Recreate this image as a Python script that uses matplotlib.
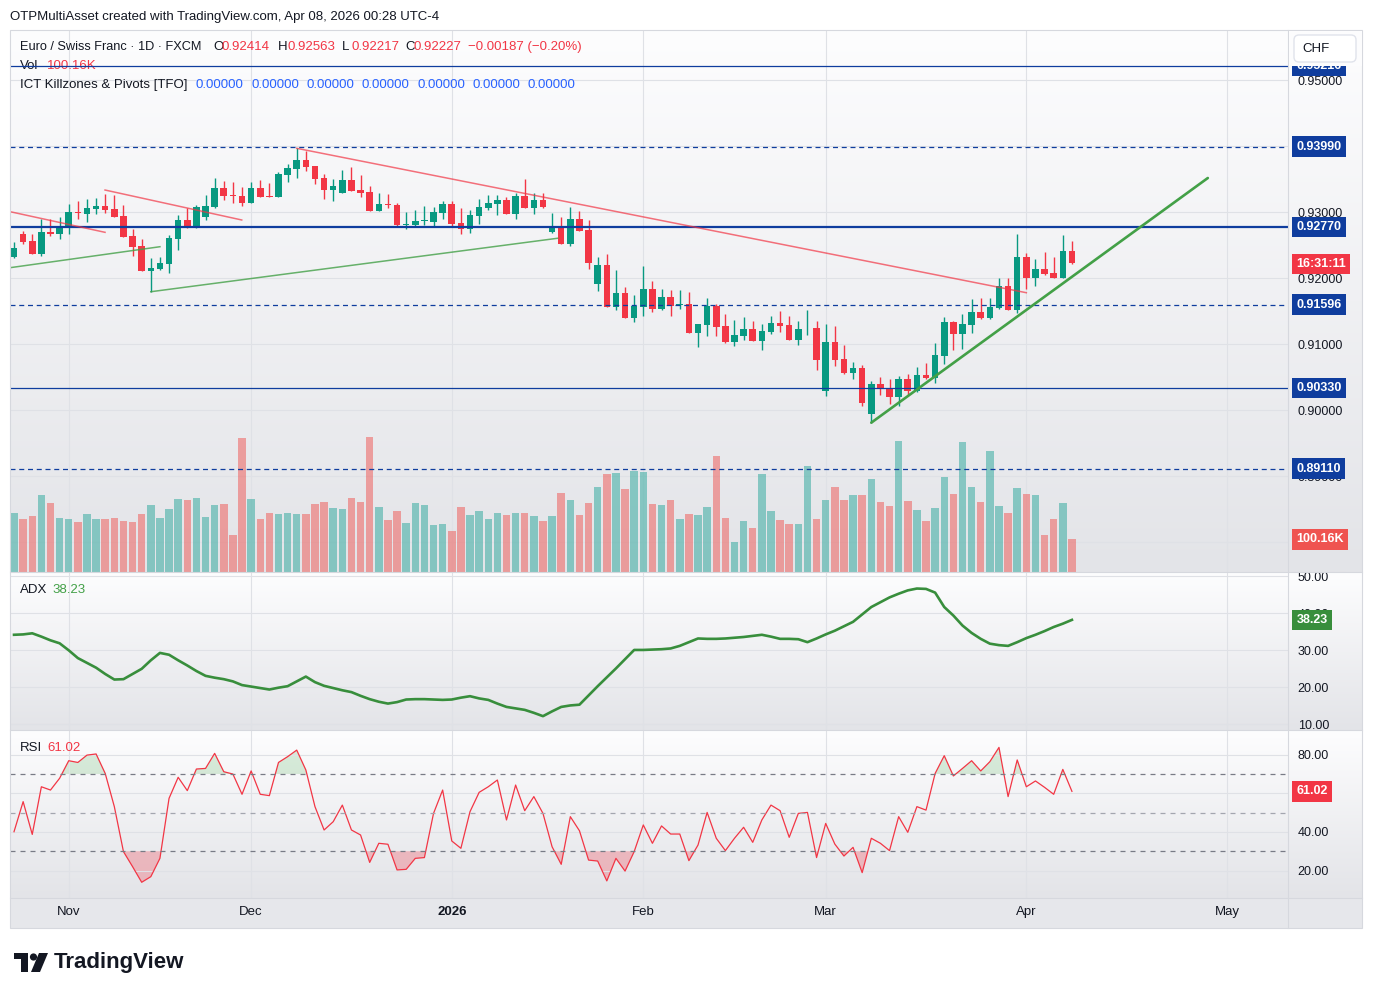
import numpy as np
import pandas as pd
import matplotlib
matplotlib.use("Agg")
import matplotlib.pyplot as plt
from matplotlib.colors import LinearSegmentedColormap
from matplotlib.patches import Rectangle, FancyBboxPatch, Circle, Polygon
from matplotlib.lines import Line2D
from matplotlib.transforms import Affine2D, blended_transform_factory
from matplotlib.ticker import FormatStrFormatter, FuncFormatter

plt.rcParams['font.family'] = ['Liberation Sans', 'DejaVu Sans']

# EUR/CHF daily candles (FXCM)
opens = [0.92323, 0.92667, 0.92561, 0.92368, 0.92697, 0.92671, 0.92768, 0.93005, 0.92974, 0.93050,
         0.93091, 0.93045, 0.92939, 0.92636, 0.92485, 0.92111, 0.92136, 0.92217, 0.92595, 0.92879,
         0.92762, 0.92924, 0.93076, 0.93359, 0.93262, 0.93238, 0.93141, 0.93359, 0.93242, 0.93232,
         0.93561, 0.93652, 0.93788, 0.93697, 0.93515, 0.93338, 0.93292, 0.93480, 0.93333, 0.93303,
         0.93020, 0.93126, 0.93106, 0.92803, 0.92808, 0.92859, 0.92853, 0.92989, 0.93121, 0.92833,
         0.92747, 0.92944, 0.93065, 0.93121, 0.93182, 0.92974, 0.93242, 0.93065, 0.93182, 0.92697,
         0.92788, 0.92520, 0.92894, 0.92727, 0.91914, 0.92197, 0.91565, 0.91773, 0.91398, 0.91565,
         0.91833, 0.91535, 0.91712, 0.91591, 0.91606, 0.91171, 0.91292, 0.91576, 0.91273, 0.91035,
         0.91126, 0.91227, 0.91050, 0.91186, 0.91318, 0.91288, 0.91065, 0.91238, 0.91242, 0.90283,
         0.91030, 0.90773, 0.90565, 0.90636, 0.89944, 0.90394, 0.90333, 0.90202, 0.90470, 0.90292,
         0.90530, 0.90489, 0.90823, 0.91333, 0.91156, 0.91292, 0.91485, 0.91398, 0.91545, 0.91879,
         0.91520, 0.92318, 0.92005, 0.92136, 0.92076, 0.92005, 0.92414]
highs = [0.92550, 0.92717, 0.92662, 0.92894, 0.92889, 0.92920, 0.93121, 0.93167, 0.93192, 0.93212,
         0.93268, 0.93262, 0.93106, 0.92742, 0.92591, 0.92303, 0.92318, 0.92656, 0.92950, 0.93056,
         0.93102, 0.93258, 0.93511, 0.93470, 0.93450, 0.93379, 0.93450, 0.93480, 0.93439, 0.93602,
         0.93723, 0.93965, 0.93929, 0.93697, 0.93576, 0.93495, 0.93636, 0.93677, 0.93565, 0.93398,
         0.93292, 0.93268, 0.93141, 0.92995, 0.93030, 0.93091, 0.93080, 0.93167, 0.93167, 0.93056,
         0.93030, 0.93192, 0.93253, 0.93258, 0.93227, 0.93283, 0.93500, 0.93288, 0.93288, 0.92985,
         0.92920, 0.93080, 0.93015, 0.92879, 0.92314, 0.92364, 0.92121, 0.91864, 0.91742, 0.92182,
         0.91955, 0.91833, 0.91818, 0.91818, 0.91788, 0.91303, 0.91697, 0.91606, 0.91455, 0.91364,
         0.91409, 0.91348, 0.91303, 0.91424, 0.91500, 0.91424, 0.91348, 0.91515, 0.91348, 0.91303,
         0.91273, 0.90985, 0.90727, 0.90682, 0.90439, 0.90505, 0.90470, 0.90515, 0.90545, 0.90652,
         0.90712, 0.91015, 0.91409, 0.91348, 0.91455, 0.91682, 0.91697, 0.91697, 0.92000, 0.92000,
         0.92667, 0.92379, 0.92288, 0.92394, 0.92318, 0.92652, 0.92563]
lows = [0.92299, 0.92515, 0.92365, 0.92338, 0.92641, 0.92595, 0.92671, 0.92898, 0.92853, 0.92974,
        0.92989, 0.92929, 0.92626, 0.92338, 0.92111, 0.91792, 0.92126, 0.92080, 0.92429, 0.92762,
        0.92762, 0.92879, 0.93056, 0.93182, 0.93141, 0.93095, 0.93132, 0.93232, 0.93232, 0.93232,
        0.93455, 0.93520, 0.93626, 0.93429, 0.93197, 0.93171, 0.93292, 0.93323, 0.93232, 0.93020,
        0.93020, 0.93065, 0.92788, 0.92747, 0.92768, 0.92808, 0.92768, 0.92889, 0.92788, 0.92671,
        0.92686, 0.92818, 0.93030, 0.92959, 0.92974, 0.92894, 0.93065, 0.92974, 0.93061, 0.92686,
        0.92520, 0.92489, 0.92717, 0.92141, 0.91808, 0.91565, 0.91520, 0.91398, 0.91338, 0.91429,
        0.91489, 0.91520, 0.91429, 0.91535, 0.91171, 0.90959, 0.91126, 0.91126, 0.91020, 0.90974,
        0.91065, 0.91050, 0.90914, 0.91156, 0.91186, 0.91065, 0.90989, 0.91141, 0.90611, 0.90217,
        0.90671, 0.90550, 0.90474, 0.90065, 0.89808, 0.90232, 0.90096, 0.90065, 0.90232, 0.90277,
        0.90474, 0.90414, 0.90702, 0.90914, 0.90929, 0.91171, 0.91383, 0.91383, 0.91530, 0.91520,
        0.91474, 0.91838, 0.91883, 0.92050, 0.92005, 0.92005, 0.92217]
closes = [0.92450, 0.92550, 0.92368, 0.92692, 0.92671, 0.92788, 0.93000, 0.92989, 0.93061, 0.93091,
          0.93035, 0.92929, 0.92626, 0.92474, 0.92111, 0.92152, 0.92227, 0.92606, 0.92879, 0.92762,
          0.93076, 0.93091, 0.93359, 0.93247, 0.93247, 0.93136, 0.93359, 0.93232, 0.93232, 0.93576,
          0.93662, 0.93788, 0.93686, 0.93505, 0.93338, 0.93394, 0.93480, 0.93323, 0.93292, 0.93020,
          0.93121, 0.93111, 0.92808, 0.92818, 0.92868, 0.92874, 0.93000, 0.93121, 0.92823, 0.92747,
          0.92955, 0.93076, 0.93136, 0.93182, 0.92974, 0.93242, 0.93065, 0.93182, 0.93076, 0.92783,
          0.92520, 0.92894, 0.92717, 0.92232, 0.92197, 0.91565, 0.91773, 0.91398, 0.91576, 0.91833,
          0.91535, 0.91712, 0.91580, 0.91606, 0.91171, 0.91303, 0.91576, 0.91262, 0.91035, 0.91136,
          0.91227, 0.91050, 0.91197, 0.91318, 0.91277, 0.91065, 0.91227, 0.91247, 0.90762, 0.91030,
          0.90762, 0.90565, 0.90636, 0.90111, 0.90394, 0.90323, 0.90202, 0.90470, 0.90292, 0.90530,
          0.90489, 0.90833, 0.91333, 0.91156, 0.91303, 0.91485, 0.91398, 0.91561, 0.91879, 0.91520,
          0.92318, 0.92005, 0.92136, 0.92065, 0.92005, 0.92414, 0.92227]
volume_k = [180, 161, 171, 235, 210, 164, 161, 152, 177, 161,
            161, 164, 155, 152, 177, 204, 164, 192, 223, 220,
            226, 167, 204, 207, 112, 409, 223, 161, 180, 177,
            180, 177, 177, 207, 213, 195, 192, 226, 213, 413,
            198, 158, 186, 149, 210, 204, 143, 146, 125, 198,
            174, 186, 161, 180, 174, 180, 180, 171, 155, 171,
            241, 220, 174, 210, 259, 299, 302, 253, 308, 305,
            207, 204, 220, 161, 177, 174, 198, 354, 164, 91,
            155, 134, 299, 186, 158, 146, 146, 324, 161, 220,
            259, 220, 235, 235, 284, 213, 201, 400, 216, 189,
            155, 195, 290, 238, 397, 259, 213, 370, 201, 180,
            256, 238, 235, 112, 161, 210, 100.16]
adx = [34.2, 34.3, 34.6, 33.7, 32.7, 31.9, 30.0, 27.9, 26.6, 25.3,
       23.6, 22.1, 22.2, 23.6, 25.0, 27.3, 29.3, 28.8, 27.3, 25.9,
       24.4, 23.1, 22.6, 22.2, 21.6, 20.6, 20.2, 19.8, 19.4, 19.9,
       20.3, 21.6, 22.9, 21.4, 20.4, 19.8, 19.2, 18.7, 17.7, 16.8,
       16.1, 15.6, 16.0, 16.7, 16.8, 16.8, 16.7, 16.6, 16.7, 17.2,
       17.6, 17.0, 16.6, 15.6, 14.7, 14.3, 13.9, 13.1, 12.2, 13.5,
       14.7, 15.1, 15.3, 17.8, 20.3, 22.7, 25.1, 27.6, 30.1, 30.1,
       30.2, 30.3, 30.5, 31.2, 32.2, 33.2, 33.1, 33.1, 33.2, 33.4,
       33.6, 33.9, 34.2, 33.7, 33.1, 33.1, 33.0, 32.2, 33.2, 34.3,
       35.3, 36.5, 37.7, 39.7, 41.7, 43.0, 44.3, 45.3, 46.2, 46.7,
       46.6, 45.6, 41.7, 39.4, 36.7, 34.7, 33.1, 31.8, 31.4, 31.2,
       32.2, 33.3, 34.2, 35.2, 36.3, 37.2, 38.23]
rsi = [40.1, 55.7, 38.7, 63.4, 61.7, 67.8, 76.9, 76.0, 79.8, 80.4,
       70.3, 53.1, 29.8, 22.0, 13.9, 16.8, 26.3, 57.4, 68.3, 61.4,
       72.6, 72.9, 80.7, 71.2, 70.0, 59.5, 71.6, 59.5, 58.8, 76.0,
       79.0, 82.4, 72.1, 53.1, 41.0, 45.3, 53.9, 41.0, 38.4, 24.2,
       34.1, 33.6, 20.3, 20.6, 26.3, 26.7, 49.6, 61.7, 35.3, 31.5,
       50.5, 60.5, 63.4, 66.9, 46.2, 64.3, 51.0, 58.3, 49.6, 32.3,
       23.2, 47.9, 40.6, 25.4, 24.9, 14.6, 26.3, 19.7, 29.8, 43.6,
       34.1, 43.1, 38.9, 38.9, 25.1, 33.2, 50.1, 36.7, 30.3, 36.7,
       42.4, 34.6, 46.2, 53.9, 51.0, 37.2, 49.6, 50.1, 26.7, 44.4,
       33.7, 27.5, 32.0, 18.9, 36.7, 34.1, 30.3, 47.9, 39.8, 53.1,
       51.3, 70.3, 79.5, 69.0, 72.9, 76.9, 71.6, 76.4, 83.8, 58.3,
       77.3, 63.4, 66.4, 63.1, 59.5, 72.4, 61.02]

# pivot levels and drawn trend lines (bar index, price)
levels = [0.95216, 0.93990, 0.92770, 0.91596, 0.90330, 0.89110]
level_dashed = [False, True, False, True, False, True]
red_lines = [((-0.44, 0.93005), (9.98, 0.92692)),
             ((9.98, 0.93333), (24.97, 0.92879)),
             ((31, 0.93965), (111, 0.91777))]
green_lines = [((-0.44, 0.92156), (16.0, 0.92474)),
               ((15, 0.91792), (59.6, 0.92602))]
green_trend = ((94, 0.89808), (130.9, 0.93515))

# axis labels covered by the price tags on the right scale
hidden_price_ticks = [0.88, 0.94]
hidden_rsi_ticks = [60]

holidays = ['2025-12-25', '2026-01-01']
dates = pd.bdate_range('2025-10-24', '2026-05-29')
dates = dates[~dates.isin(pd.to_datetime(holidays))]
month_idx, month_lbl = [], []
for i in range(1, len(dates)):
    if dates[i].month != dates[i - 1].month:
        month_idx.append(i)
        month_lbl.append(str(dates[i].year) if dates[i].month == 1 else dates[i].strftime('%b'))

GREEN, RED, BLUE, INK = '#089981', '#f23645', '#0f3d9e', '#131722'
GRID = '#dfe1e6'

W, H = 1373, 996
fig = plt.figure(figsize=(W / 100, H / 100), dpi=100)
fig.patch.set_facecolor('white')
PX = Affine2D().scale(1.0 / W, -1.0 / H).translate(0, 1) + fig.transFigure


def rect(x0, y0, x1, y1):
    return [x0 / W, 1 - y1 / H, (x1 - x0) / W, (y1 - y0) / H]


# pane backgrounds (light vertical gradient)
cmap_bg = LinearSegmentedColormap.from_list('bg', ['#e3e4e8', '#fdfdfe'])
for y0, y1 in [(30, 572), (573, 730), (731, 898)]:
    b = fig.add_axes(rect(10, y0, 1362, y1), zorder=-2)
    b.imshow(np.linspace(0, 1, 256).reshape(-1, 1), cmap=cmap_bg, aspect='auto',
             extent=[0, 1, 0, 1], origin='lower', interpolation='bilinear')
    b.set_axis_off()
fig.add_artist(Rectangle((10, 898), 1352, 30, transform=PX, fc='#e6e7eb', ec='none', zorder=-1))

ax_vol = fig.add_axes(rect(10, 30, 1288, 572))
ax_vol.set_facecolor('none')
ax = ax_vol.twinx()
ax_adx = fig.add_axes(rect(10, 573, 1288, 730), sharex=ax_vol)
ax_rsi = fig.add_axes(rect(10, 731, 1288, 898), sharex=ax_vol)
for a in [ax_adx, ax_rsi]:
    a.set_facecolor('none')
    a.yaxis.tick_right()

x = np.arange(len(closes))
o, h, l, c = map(np.array, (opens, highs, lows, closes))
up = c >= o

# volume overlay
ax_vol.bar(x, volume_k, width=0.82, color=np.where(up, '#26a69a', '#ef5350'), alpha=0.5, zorder=2)
grid_tr = blended_transform_factory(ax_vol.transAxes, ax.transData)
for p in np.arange(0.88, 0.9501, 0.01):
    ax_vol.plot([0, 1], [p, p], transform=grid_tr, color=GRID, lw=0.8, zorder=1)
ax_vol.grid(axis='x', color=GRID, lw=0.8)
ax_vol.set_ylim(0, 542 * 3.063)

# candles
col = np.where(up, GREEN, RED)
ax.vlines(x, l, h, colors=col, lw=1.0, zorder=3)
ax.bar(x, np.maximum(np.abs(c - o), 0.00012), bottom=np.minimum(o, c), width=0.72, color=col, zorder=4)

for p, dashed in zip(levels, level_dashed):
    lw = 1.6 if p == 0.92770 else 0.9
    ax.axhline(p, color=BLUE, lw=lw, ls=(0, (4, 3)) if dashed else '-', zorder=5)
for (x0, y0), (x1, y1) in red_lines:
    ax.plot([x0, x1], [y0, y1], color=RED, alpha=0.7, lw=1.1, zorder=5)
for (x0, y0), (x1, y1) in green_lines:
    ax.plot([x0, x1], [y0, y1], color='#43a047', alpha=0.8, lw=1.1, zorder=5)
(x0, y0), (x1, y1) = green_trend
ax.plot([x0, x1], [y0, y1], color='#43a047', lw=1.9, zorder=5, solid_capstyle='round')

ax.set_ylim(0.93 - 360 / 6600, 0.93 + 182 / 6600)
ax.set_yticks(np.round(np.arange(0.88, 0.9501, 0.01), 2))
ax.yaxis.set_major_formatter(FuncFormatter(
    lambda v, pos: '' if any(abs(v - t) < 1e-6 for t in hidden_price_ticks) else '%.5f' % v))

# ADX pane
ax_adx.plot(x, adx, color='#388e3c', lw=1.9)
ax_adx.set_ylim(8.46, 50.9)
ax_adx.set_yticks([10, 20, 30, 40, 50])
ax_adx.yaxis.set_major_formatter(FormatStrFormatter('%.2f'))
ax_adx.grid(color=GRID, lw=0.8)

# RSI pane
r = np.array(rsi)
ax_rsi.fill_between(x, r, 70, where=r > 70, interpolate=True, color='#4caf50', alpha=0.2, lw=0)
ax_rsi.fill_between(x, r, 30, where=r < 30, interpolate=True, color=RED, alpha=0.28, lw=0)
ax_rsi.plot(x, r, color=RED, lw=0.9)
for lvl, cc in [(70, '#787b86'), (50, '#a3a6af'), (30, '#787b86')]:
    ax_rsi.axhline(lvl, color=cc, lw=0.9, ls=(0, (4, 4)))
ax_rsi.set_ylim(5.75, 92.3)
ax_rsi.set_yticks([20, 40, 60, 80])
ax_rsi.yaxis.set_major_formatter(FuncFormatter(
    lambda v, pos: '' if any(abs(v - t) < 1e-6 for t in hidden_rsi_ticks) else '%.2f' % v))
ax_rsi.grid(color=GRID, lw=0.8)

ax_vol.set_xlim(-0.44, -0.44 + 1278 / 9.12)
ax_rsi.set_xticks(month_idx)
ax_rsi.set_xticklabels(month_lbl)
for t in ax_rsi.get_xticklabels():
    if t.get_text() == '2026':
        t.set_fontweight('bold')

for a in [ax_vol, ax, ax_adx, ax_rsi]:
    for s in a.spines.values():
        s.set_visible(False)
    a.tick_params(length=0, labelsize=9, labelcolor=INK)
    a.tick_params(axis='y', pad=7)
ax_vol.tick_params(labelleft=False, labelbottom=False)
ax_adx.tick_params(labelbottom=False)
ax_rsi.tick_params(axis='x', pad=6, labelsize=9.5)


def tag(a, y, s, fc, coords=None):
    a.annotate(s, xy=(1, y), xycoords=coords if coords is not None else ('axes fraction', 'data'),
               xytext=(6, 0), textcoords='offset points', ha='left', va='center',
               fontsize=9, color='white', fontweight='bold', zorder=10, annotation_clip=False,
               bbox=dict(boxstyle='square,pad=0.34', fc=fc, ec='none'))


for p in levels:
    tag(ax, p, '%.5f' % p, BLUE)
tag(ax, 0.92212, '16:31:11', RED)
tag(ax, volume_k[-1], '100.16K', '#ef5350', blended_transform_factory(ax.transAxes, ax_vol.transData))
tag(ax_adx, adx[-1], '%.2f' % adx[-1], '#388e3c')
tag(ax_rsi, rsi[-1], '%.2f' % rsi[-1], RED)


def ptext(a, px, py, s, color=INK, size=9.5, **kw):
    a.text(px, py, s, transform=PX, color=color, fontsize=size, va='center', ha='left', zorder=4, **kw)


ptext(ax, 20, 47, 'Euro / Swiss Franc · 1D · FXCM', size=9.2)
for px_, lab, val in [(213, 'O', '0.92414'), (278, 'H', '0.92563'), (342, 'L', '0.92217'), (405, 'C', '0.92227')]:
    ptext(ax, px_, 47, lab)
    ptext(ax, px_ + 9, 47, val, RED)
ptext(ax, 468, 47, '−0.00187 (−0.20%)', RED)
ptext(ax, 20, 66, 'Vol')
ptext(ax, 47, 66, '100.16K', RED)
ptext(ax, 20, 85, 'ICT Killzones & Pivots [TFO]')
for k in range(7):
    ptext(ax, 196 + k * 55.3, 85, '0.00000', '#2962ff')
ptext(ax_adx, 20, 590, 'ADX')
ptext(ax_adx, 52, 590, '%.2f' % adx[-1], '#43a047')
ptext(ax_rsi, 20, 748, 'RSI')
ptext(ax_rsi, 47, 748, '%.2f' % rsi[-1], RED)

# frame and separators
for (xa, ya, xb, yb) in [(10, 572.5, 1362, 572.5), (10, 730.5, 1362, 730.5), (10, 898, 1362, 898),
                         (1288, 30, 1288, 928)]:
    fig.add_artist(Line2D([xa, xb], [ya, yb], transform=PX, color='#d6d8de', lw=0.8, zorder=2))
fig.add_artist(Rectangle((10, 30), 1352, 898, transform=PX, fill=False, ec='#d6d8de', lw=0.8, zorder=2))

# currency button covers the top of the scale (and half of the top tag)
fig.add_artist(Rectangle((1288.6, 30.6), 73, 35.4, transform=PX, fc='#fcfcfd', ec='none', zorder=4))
fig.add_artist(FancyBboxPatch((1294, 35), 62, 27, boxstyle='round,pad=0,rounding_size=5', transform=PX,
                              fc='white', ec='#e0e3eb', lw=1, zorder=5))
fig.text(1316 / W, 1 - 49 / H, 'CHF', ha='center', va='center', fontsize=9.5, color=INK, zorder=6)

fig.text(10 / W, 1 - 17 / H, 'OTPMultiAsset created with TradingView.com, Apr 08, 2026 00:28 UTC-4',
         fontsize=9.5, va='center', color=INK)

# TradingView logo
for patch in [Rectangle((14, 953), 14, 6), Rectangle((21, 953), 7, 19), Circle((33.5, 957), 3.6),
              Polygon([(39, 953), (48, 953), (40, 972), (31, 972)])]:
    patch.set_transform(PX)
    patch.set_facecolor(INK)
    patch.set_edgecolor('none')
    fig.add_artist(patch)
fig.text(54 / W, 1 - 962 / H, 'TradingView', fontsize=16, fontweight='bold', va='center', color=INK)

fig.savefig('out.png', dpi=100)
